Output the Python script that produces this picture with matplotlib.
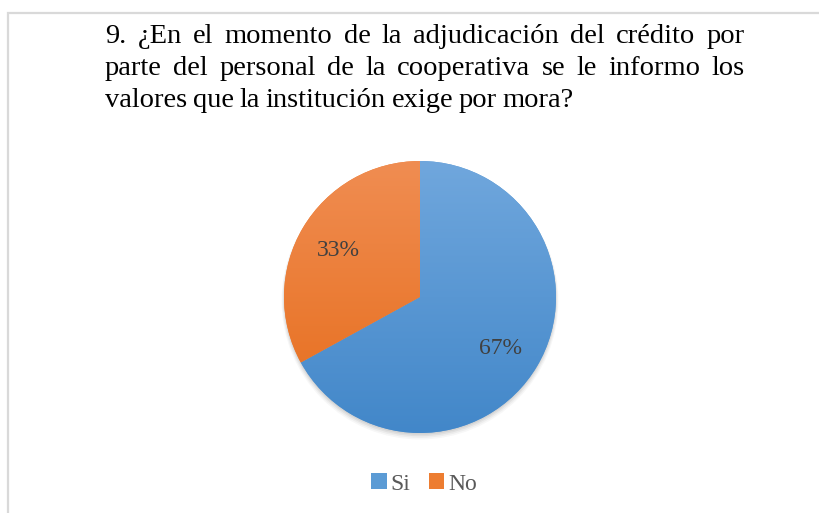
import matplotlib.pyplot as plt
import numpy as np
from matplotlib.patches import Rectangle, Circle, Patch
from matplotlib.colors import LinearSegmentedColormap

plt.rcParams['font.family'] = ['Liberation Serif', 'DejaVu Serif']

W, H = 819, 513
categories = ['Si', 'No']
values = [67, 33]
labels_pct = ['67%', '33%']
title_lines = [
    "9. ¿En el momento de la adjudicación del crédito por",
    "parte del personal de la cooperativa se le informo los",
    "valores que la institución exige por mora?",
]
colors = ['#5b9bd5', '#ed7d31']
grad = [('#70a7dd', '#4287c9'), ('#f08d52', '#e66c1a')]

fig = plt.figure(figsize=(W / 100, H / 100), dpi=100)

# borde del gráfico (solo se ve arriba y a la izquierda)
fig.add_artist(Rectangle((7.5 / W, -0.05), 1.1, 1 - 12.5 / H + 0.05,
                         transform=fig.transFigure, fill=False,
                         edgecolor='#d9d9d9', lw=1.6))

# título justificado
renderer = fig.canvas.get_renderer()
left, right = 105, 745
baselines = [43, 75, 107]
fs = 20.5
for i, line in enumerate(title_lines):
    words = line.split(' ')
    texts = [fig.text(0, 0, w, fontsize=fs, color='black', va='baseline') for w in words]
    widths = [t.get_window_extent(renderer).width for t in texts]
    if i < 2:
        gap = (right - left - sum(widths)) / (len(words) - 1)
    else:
        gap = fs * 0.2 * 100 / 72
    x = left
    for t, w in zip(texts, widths):
        t.set_position((x / W, 1 - baselines[i] / H))
        x += w + gap

# pastel
cx, cy, r = 420, 297, 136
pad = 1.05
ax = fig.add_axes([(cx - r * pad) / W, (H - cy - r * pad) / H, 2 * r * pad / W, 2 * r * pad / H])
wedges, _ = ax.pie(values, colors=colors, startangle=90, counterclock=False,
                   radius=1, wedgeprops=dict(linewidth=0))
# sombra suave
for k, a in enumerate([0.06, 0.05, 0.04, 0.03]):
    sh = Circle((0.0, -0.012 - 0.006 * k), 1.0 + 0.006 * k, color='black',
                alpha=a, zorder=0, lw=0)
    ax.add_patch(sh)
gy = np.linspace(0, 1, 256).reshape(-1, 1)
for wdg, (c1, c2) in zip(wedges, grad):
    cmap = LinearSegmentedColormap.from_list('g', [c2, c1])
    im = ax.imshow(gy, cmap=cmap, extent=[-1, 1, -1, 1], origin='lower',
                   aspect='auto', zorder=2)
    im.set_clip_path(wdg)
ax.set_xlim(-pad, pad)
ax.set_ylim(-pad, pad)
ax.set_aspect('equal')
ax.axis('off')

# etiquetas
lab_pos = [(500, 349), (338, 250)]
for (px, py), s in zip(lab_pos, labels_pct):
    fig.text(px / W, 1 - py / H, s, fontsize=17, color='#404040',
             ha='center', va='center')

# leyenda
handles = [Patch(facecolor=c, edgecolor='none') for c in colors]
fig.legend(handles, categories, loc='center', bbox_to_anchor=(424 / W, 1 - 484 / H),
           ncol=2, frameon=False, fontsize=17, handlelength=0.65, handleheight=0.65,
           handletextpad=0.15, columnspacing=0.8, labelcolor='#595959')

fig.savefig('out.png', dpi=100)
